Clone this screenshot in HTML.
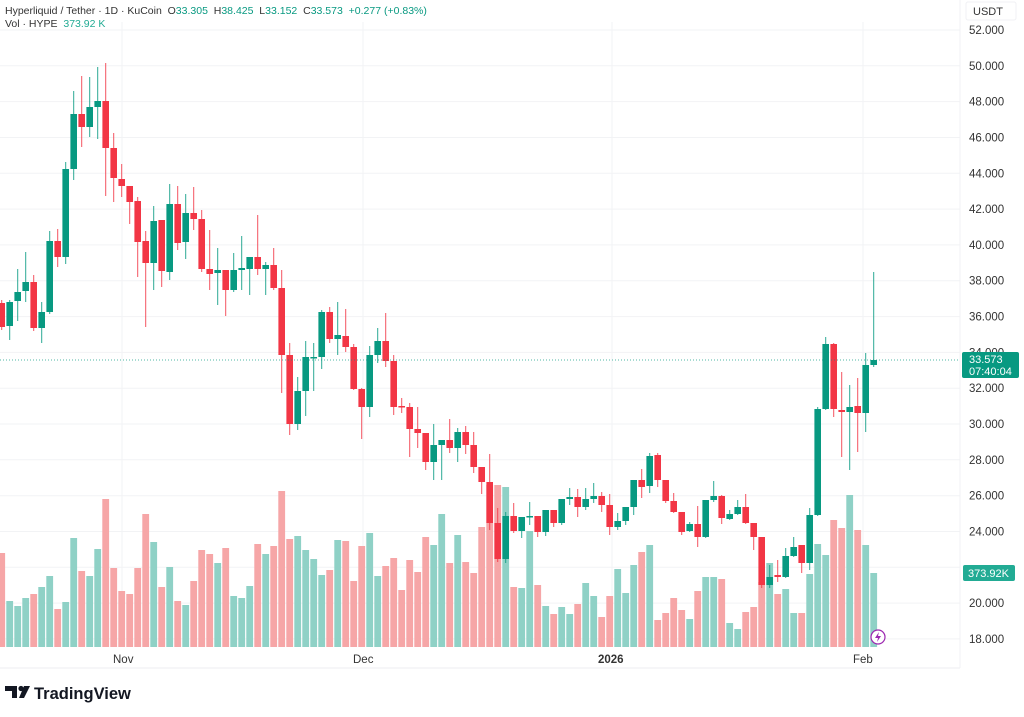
<!DOCTYPE html>
<html><head><meta charset="utf-8">
<style>
html,body{margin:0;padding:0;background:#fff;width:1024px;height:717px;overflow:hidden;font-family:"Liberation Sans",sans-serif;}
svg{position:absolute;left:0;top:0;}
</style></head>
<body>
<svg id="s" width="1024" height="717" xmlns="http://www.w3.org/2000/svg" font-family="Liberation Sans, sans-serif"></svg>
<script>
var C=[
['r',303,327,300,330],['g',302,326,300,340],['g',292,301,269,321],['g',282,291,252,302],['r',282,328,275,331],['g',312,328,302,343],
['g',241,312,231,314],['r',241,257,229,267],['g',169,257,162,264],['g',114,169,91,180],['r',114,127,76,147],['g',107,127,77,137],
['g',101,107,67,139],['r',101,148,63,196],['r',148,178,133,202],['r',179,186,164,197],['r',186,202,186,224],['r',201,242,197,277],
['r',241,263,231,327],['g',221,263,206,290],['r',220,271,220,287],['g',204,272,184,280],['r',204,243,186,250],['g',213,242,194,259],
['r',213,219,187,230],['r',219,269,210,272],['r',269,274,230,290],['g',270,273,248,305],['r',270,290,270,316],['g',270,290,253,292],
['g',268,270,236,290],['g',257,269,257,295],['r',257,269,215,275],['g',265,269,262,295],['r',265,288,248,290],['r',288,355,270,393],
['r',355,424,343,435],['g',391,424,377,430],['g',357,391,341,416],['g',357,358,343,391],['g',312,357,310,369],['r',312,339,307,343],
['g',335,339,302,355],['r',336,347,309,352],['r',347,389,344,390],['r',389,407,388,439],['g',355,407,346,417],['g',341,355,328,363],
['r',341,361,313,367],['r',361,407,355,415],['r',406,407,398,413],['r',407,429,403,457],['r',429,433,407,448],['r',433,462,433,470],
['g',445,462,424,480],['g',440,445,440,480],['r',440,448,419,453],['g',432,448,428,462],['r',432,445,426,454],['r',445,467,432,473],
['r',467,482,467,494],['r',482,523,454,530],['r',523,559,508,562],['g',516,559,512,563],['r',516,531,503,533],['g',517,531,517,538],
['g',516,517,502,525],['r',516,532,516,537],['g',510,532,510,536],['r',510,523,510,527],['g',499,523,499,525],['g',497,499,488,505],
['r',497,507,489,517],['g',499,507,488,510],['g',496,499,483,503],['r',496,505,492,512],['r',505,527,494,535],['g',521,527,513,530],
['g',507,521,507,525],['g',480,507,480,515],['r',480,487,469,498],['g',456,486,453,493],['r',455,480,453,487],['r',480,501,480,503],
['r',501,512,493,513],['r',512,532,512,535],['g',524,531,522,532],['r',524,537,506,547],['g',500,537,500,538],['g',496,500,481,502],
['r',496,518,495,524],['g',514,519,510,520],['g',507,514,500,515],['r',507,523,494,524],['r',523,537,523,550],['r',537,585,537,588],
['g',577,585,565,588],['r',575,577,560,582],['g',556,577,548,578],['g',547,556,537,557],['r',545,563,545,573],['g',515,563,508,570],
['g',409,515,407,516],['g',344,409,337,410],['r',344,409,343,417],['r',410,412,372,457],['g',407,412,385,470],['r',406,413,378,452],
['g',365,413,353,432],['g',360,365,272,367]];
var V=[553,601,606,598,594,587,576,609,602,538,571,576,549,499,568,591,594,568,514,542,587,567,601,605,581,550,554,563,548,596,598,586,544,554,546,491,539,536,550,559,575,570,540,541,581,546,533,576,566,558,590,560,572,537,545,514,563,535,562,573,527,485,485,487,587,588,531,585,606,614,607,614,604,583,596,617,596,569,593,565,552,545,620,613,598,610,619,591,577,577,579,623,629,612,607,582,563,594,589,613,613,574,544,555,520,528,495,530,545,573];
var h='';
for(var p=52;p>=18;p-=2){var y=30+(52-p)*17.91;h+='<line x1="0" x2="960" y1="'+y.toFixed(1)+'" y2="'+y.toFixed(1)+'" stroke="#f2f3f5" stroke-width="1"/>';
 if(p!=22) h+='<text x="969" y="'+(y+4).toFixed(1)+'" font-size="11.5" fill="#333">'+p+'.000</text>';}
[122,363,612,863].forEach(function(x){h+='<line x1="'+x+'" x2="'+x+'" y1="22" y2="647" stroke="#f2f3f5"/>';});
for(var i=0;i<V.length;i++){var x=1.7+8*i-3.4;var g=C[i][0]=='g';
 h+='<rect x="'+x.toFixed(1)+'" y="'+V[i]+'" width="6.8" height="'+(647-V[i])+'" fill="'+(g?'#8fd1c6':'#f6a6a7')+'"/>';}
for(var i=0;i<C.length;i++){var c=C[i],x=1.7+8*i,col=c[0]=='g'?'#089981':'#f23645';
 h+='<line x1="'+x.toFixed(1)+'" x2="'+x.toFixed(1)+'" y1="'+c[3]+'" y2="'+c[4]+'" stroke="'+col+'" stroke-width="1" opacity="0.85"/>';
 h+='<rect x="'+(x-3.3).toFixed(1)+'" y="'+c[1]+'" width="6.6" height="'+Math.max(1.5,c[2]-c[1])+'" fill="'+col+'"/>';}
h+='<line x1="0" x2="960" y1="360" y2="360" stroke="#089981" stroke-width="1" stroke-dasharray="1,2" opacity="0.7"/>';
h+='<rect x="962" y="352" width="57" height="26" rx="2" fill="#089981"/><text x="969" y="363" font-size="11" fill="#fff">33.573</text><text x="969" y="375" font-size="11" fill="#fff">07:40:04</text>';
h+='<rect x="963" y="565" width="52" height="16" rx="2" fill="#22ab94"/><text x="968" y="577" font-size="11" fill="#fff">373.92K</text>';
h+='<line x1="0" x2="960" y1="668" y2="668" stroke="#eceef2"/><line x1="960" x2="960" y1="0" y2="668" stroke="#f0f1f4"/>';
h+='<text x="113" y="663" font-size="11.5" fill="#333">Nov</text><text x="353" y="663" font-size="11.5" fill="#333">Dec</text><text x="598" y="663" font-size="11.5" font-weight="bold" fill="#333">2026</text><text x="853" y="663" font-size="11.5" fill="#333">Feb</text>';
h+='<circle cx="878" cy="637" r="7" fill="#fff" stroke="#9c27b0" stroke-width="1.2"/><path d="M879,632 L875,638 L878,638 L877,642 L881,636 L878,636 Z" fill="#9c27b0"/>';
h+='<rect x="966" y="2" width="50" height="18" rx="2" fill="#fff" stroke="#f0f1f4"/><text x="973" y="15" font-size="11" fill="#333">USDT</text>';
h+='<text x="5" y="14" font-size="10.5" fill="#333">Hyperliquid / Tether · 1D · KuCoin&#160; O<tspan fill="#089981">33.305</tspan>&#160; H<tspan fill="#089981">38.425</tspan>&#160; L<tspan fill="#089981">33.152</tspan>&#160; C<tspan fill="#089981">33.573</tspan>&#160; <tspan fill="#089981">+0.277 (+0.83%)</tspan></text>';
h+='<text x="5" y="27" font-size="10.5" fill="#333">Vol · HYPE&#160; <tspan fill="#22ab94">373.92 K</tspan></text>';
h+='<path d="M5,686 h12 v12 h-5 v-7 h-7 z" fill="#131722"/><circle cx="21" cy="688.5" r="2.6" fill="#131722"/><path d="M24,686 h6 l-6,12 h-5 z" fill="#131722"/>';
h+='<text x="34" y="699" font-size="16.5" font-weight="bold" fill="#131722">TradingView</text>';
document.getElementById('s').innerHTML=h;
</script>
</body></html>
